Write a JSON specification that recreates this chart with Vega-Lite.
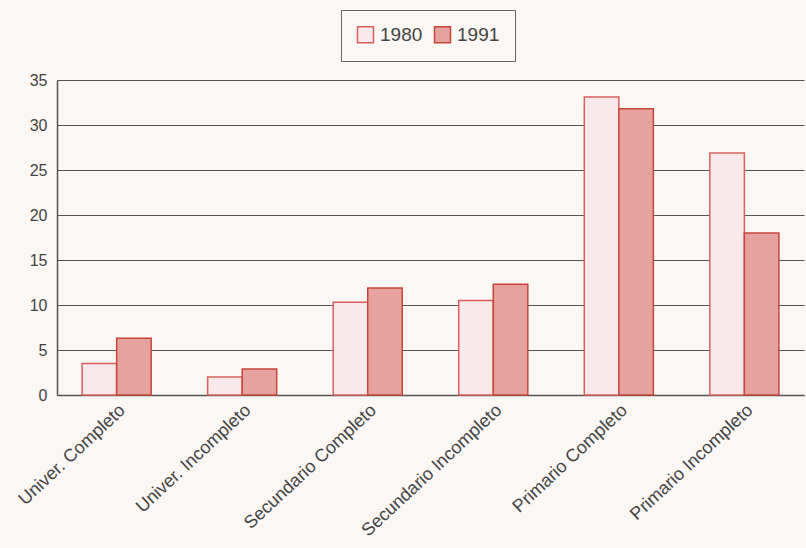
{
  "$schema": "https://vega.github.io/schema/vega-lite/v6.json",
  "width": 747,
  "height": 315,
  "autosize": "none",
  "padding": {"left": 57, "top": 80, "right": 2, "bottom": 153},
  "background": "#fbf7f4",
  "config": {
    "view": {"stroke": null},
    "font": "Liberation Sans"
  },
  "data": {
    "values": [
      {"nivel": "Univer. Completo", "anio": "1980", "valor": 3.5},
      {"nivel": "Univer. Completo", "anio": "1991", "valor": 6.3},
      {"nivel": "Univer. Incompleto", "anio": "1980", "valor": 2.0},
      {"nivel": "Univer. Incompleto", "anio": "1991", "valor": 2.9},
      {"nivel": "Secundario Completo", "anio": "1980", "valor": 10.3},
      {"nivel": "Secundario Completo", "anio": "1991", "valor": 11.9},
      {"nivel": "Secundario Incompleto", "anio": "1980", "valor": 10.5},
      {"nivel": "Secundario Incompleto", "anio": "1991", "valor": 12.3},
      {"nivel": "Primario Completo", "anio": "1980", "valor": 33.1},
      {"nivel": "Primario Completo", "anio": "1991", "valor": 31.8},
      {"nivel": "Primario Incompleto", "anio": "1980", "valor": 26.9},
      {"nivel": "Primario Incompleto", "anio": "1991", "valor": 18.0}
    ]
  },
  "mark": {"type": "bar", "strokeWidth": 1.5},
  "encoding": {
    "x": {
      "field": "nivel",
      "type": "nominal",
      "sort": null,
      "scale": {"paddingInner": 0.45, "paddingOuter": 0.2},
      "axis": {
        "title": null,
        "labelAngle": -43,
        "labelFontSize": 18,
        "labelColor": "#444444",
        "labelPadding": 6,
        "labelLimit": 400,
        "labelOverlap": false,
        "ticks": false,
        "domainColor": "#555555",
        "domainWidth": 1.5
      }
    },
    "xOffset": {"field": "anio", "type": "nominal"},
    "y": {
      "field": "valor",
      "type": "quantitative",
      "scale": {"domain": [0, 35], "nice": false},
      "axis": {
        "title": null,
        "values": [0, 5, 10, 15, 20, 25, 30, 35],
        "labelFontSize": 16,
        "labelColor": "#444444",
        "labelPadding": 10,
        "ticks": false,
        "grid": true,
        "gridColor": "#555555",
        "gridWidth": 1.2,
        "domain": true,
        "domainColor": "#555555",
        "domainWidth": 1.5
      }
    },
    "fill": {
      "field": "anio",
      "type": "nominal",
      "scale": {"domain": ["1980", "1991"], "range": ["#f8eaea", "#e6a29c"]},
      "legend": {
        "title": null,
        "orient": "none",
        "legendX": 284,
        "legendY": -70,
        "direction": "horizontal",
        "symbolType": "square",
        "symbolSize": 256,
        "symbolStrokeWidth": 1.5,
        "labelFontSize": 19,
        "labelColor": "#444444",
        "labelOffset": 5,
        "columnPadding": 8,
        "padding": 15,
        "strokeColor": "#666666",
        "fillColor": "#fbf7f4"
      }
    },
    "stroke": {
      "field": "anio",
      "type": "nominal",
      "scale": {"domain": ["1980", "1991"], "range": ["#d9605a", "#c8453c"]},
      "legend": null
    }
  }
}
